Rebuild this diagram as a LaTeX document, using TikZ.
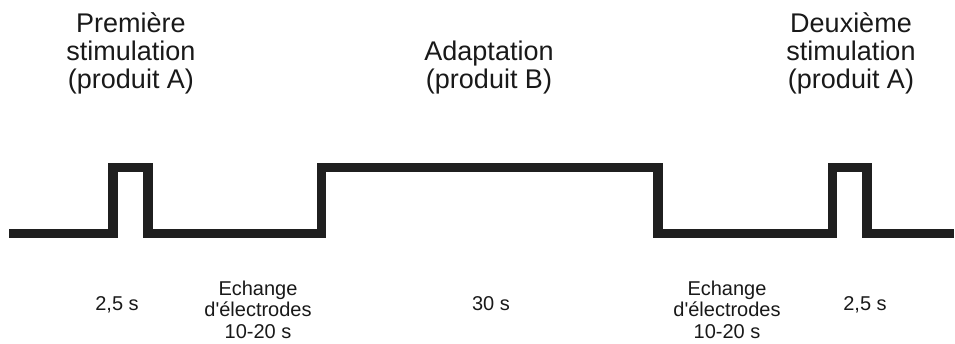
\documentclass[tikz,border=0pt]{standalone}
\usepackage{fontspec}
\setmainfont{Liberation Sans}
\begin{document}
\begin{tikzpicture}[x=1pt,y=-1pt,
  toplabel/.style={anchor=base,inner sep=0pt,align=center,font=\fontsize{27}{28}\selectfont,text=black!90},
  botlabel/.style={anchor=base,inner sep=0pt,align=center,font=\fontsize{20}{21.5}\selectfont,text=black!90},
  signal/.style={line width=9.5pt,line join=miter,line cap=butt,draw=black!88}]
\useasboundingbox (0,0) rectangle (955,343);
\coordinate (s0) at (9,233.5);
\coordinate (s1) at (112.8,233.5);
\coordinate (s2) at (112.8,167.3);
\coordinate (s3) at (147.8,167.3);
\coordinate (s4) at (147.8,233.5);
\coordinate (s5) at (321.5,233.5);
\coordinate (s6) at (321.5,167.3);
\coordinate (s7) at (658,167.3);
\coordinate (s8) at (658,233.5);
\coordinate (s9) at (832.5,233.5);
\coordinate (s10) at (832.5,167.3);
\coordinate (s11) at (867,167.3);
\coordinate (s12) at (867,233.5);
\coordinate (s13) at (954,233.5);
\draw[signal] (s0) -- (s1) -- (s2) -- (s3) -- (s4) -- (s5) -- (s6) -- (s7) -- (s8) -- (s9) -- (s10) -- (s11) -- (s12) -- (s13);
\node[toplabel] (t1) at (131,88) {Première\\stimulation\\(produit A)};
\node[toplabel] (t2) at (489,88) {Adaptation\\(produit B)};
\node[toplabel] (t3) at (851,88) {Deuxième\\stimulation\\(produit A)};
\node[botlabel] (b1) at (117,310) {2,5 s};
\node[botlabel] (b2) at (258,338) {Echange\\d\textquotesingle électrodes\\10-20 s};
\node[botlabel] (b3) at (491,310) {30 s};
\node[botlabel] (b4) at (727,338) {Echange\\d\textquotesingle électrodes\\10-20 s};
\node[botlabel] (b5) at (865,310) {2,5 s};
\end{tikzpicture}
\end{document}
